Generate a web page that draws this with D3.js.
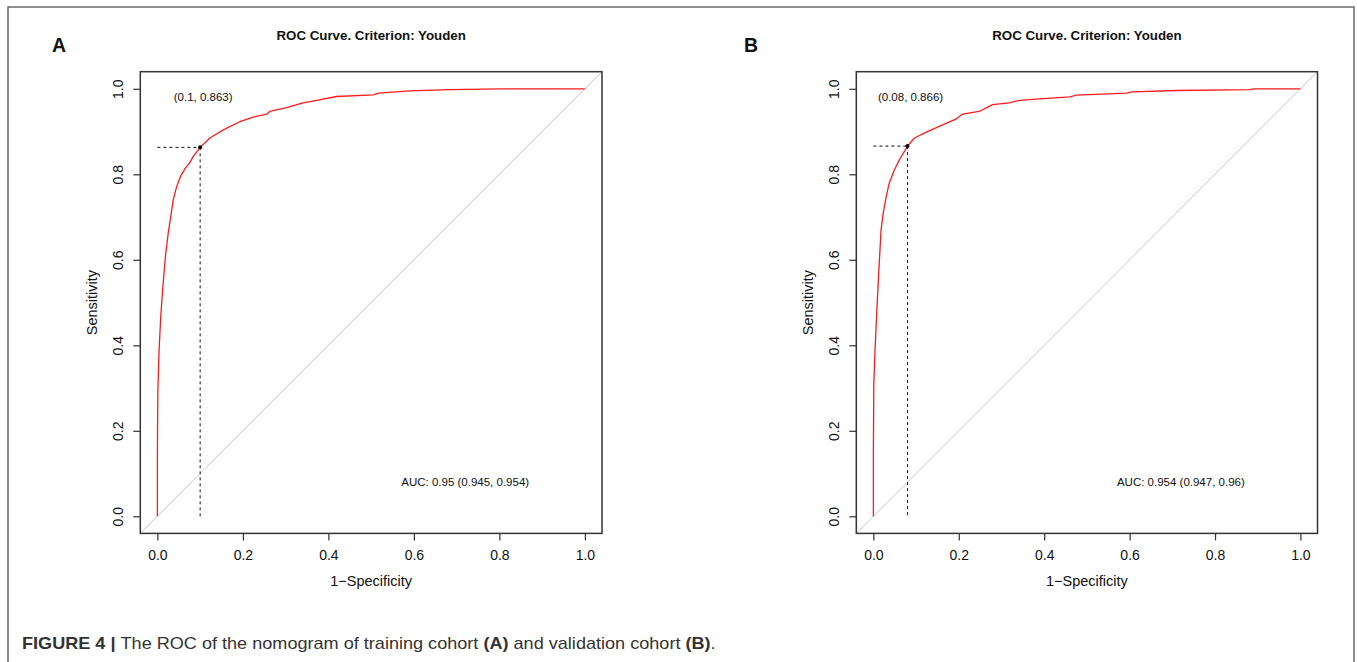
<!DOCTYPE html>
<html><head><meta charset="utf-8">
<script src="https://cdn.jsdelivr.net/npm/d3@7"></script>
<style>
html,body{margin:0;padding:0;background:#fff;}
svg{display:block;font-family:"Liberation Sans",Arial,Helvetica,sans-serif;}
</style></head>
<body>
<svg id="chart" width="1357" height="662"></svg>
<script>
// ---- Data ----
const panelLetters = ["A", "B"];
const chartTitle = "ROC Curve. Criterion: Youden";
const xAxisTitle = "1\u2212Specificity";
const yAxisTitle = "Sensitivity";
const tickValues = [0, 0.2, 0.4, 0.6, 0.8, 1.0];
const tickLabels = ["0.0", "0.2", "0.4", "0.6", "0.8", "1.0"];

const fprA = [0, 0.000, 0.001, 0.004, 0.008, 0.013, 0.019, 0.025, 0.031, 0.037, 0.045, 0.054, 0.065, 0.075, 0.084, 0.100, 0.123, 0.154, 0.193, 0.224, 0.256, 0.263, 0.302, 0.341, 0.373, 0.419, 0.505, 0.517, 0.591, 0.684, 0.801, 1.0];
const tprA = [0, 0.150, 0.290, 0.390, 0.470, 0.540, 0.610, 0.660, 0.700, 0.740, 0.771, 0.795, 0.814, 0.826, 0.842, 0.863, 0.885, 0.904, 0.923, 0.934, 0.941, 0.947, 0.956, 0.967, 0.973, 0.982, 0.986, 0.990, 0.995, 0.998, 1.0, 1.0];

const fprB = [0, 0.000, 0.001, 0.004, 0.008, 0.012, 0.015, 0.018, 0.023, 0.030, 0.037, 0.049, 0.061, 0.080, 0.096, 0.123, 0.154, 0.193, 0.209, 0.248, 0.279, 0.318, 0.342, 0.398, 0.460, 0.476, 0.593, 0.605, 0.710, 0.882, 0.890, 1.0];
const tprB = [0, 0.155, 0.310, 0.390, 0.480, 0.560, 0.615, 0.670, 0.709, 0.748, 0.779, 0.810, 0.834, 0.866, 0.885, 0.898, 0.912, 0.929, 0.941, 0.947, 0.963, 0.967, 0.973, 0.977, 0.981, 0.985, 0.990, 0.993, 0.996, 0.998, 1.0, 1.0];

const cutoffA = [0.1, 0.863];
const cutoffB = [0.08, 0.866];
const cutoffLabels = ["(0.1, 0.863)", "(0.08, 0.866)"];
const aucLabels = ["AUC: 0.95 (0.945, 0.954)", "AUC: 0.954 (0.947, 0.96)"];

const captionParts = [
  {t: "FIGURE 4 | ", b: true},
  {t: "The ROC of the nomogram of training cohort ", b: false},
  {t: "(A)", b: true},
  {t: " and validation cohort ", b: false},
  {t: "(B)", b: true},
  {t: ".", b: false}
];

// ---- Layout ----
const svg = d3.select("#chart");

// outer figure frame (open at bottom)
svg.append("path")
  .attr("d", "M8,662 L8,7 L1354,7 L1354,662")
  .attr("fill", "none").attr("stroke", "#6a6a6a").attr("stroke-width", 1.5);

const panels = [
  {letter: panelLetters[0], fpr: fprA, tpr: tprA, cut: cutoffA, cutLabel: cutoffLabels[0], auc: aucLabels[0],
   box: {x0: 140.3, x1: 602, y0: 71.7, y1: 533.4}, letterX: 59},
  {letter: panelLetters[1], fpr: fprB, tpr: tprB, cut: cutoffB, cutLabel: cutoffLabels[1], auc: aucLabels[1],
   box: {x0: 856.3, x1: 1317.5, y0: 71.7, y1: 533.4}, letterX: 751}
];

panels.forEach((p, i) => {
  const g = svg.append("g");
  const x = d3.scaleLinear().domain([-0.04, 1.04]).range([p.box.x0, p.box.x1]);
  const y = d3.scaleLinear().domain([-0.04, 1.04]).range([p.box.y1, p.box.y0]);

  const clipId = "clip" + i;
  svg.append("clipPath").attr("id", clipId).append("rect")
    .attr("x", p.box.x0).attr("y", p.box.y0)
    .attr("width", p.box.x1 - p.box.x0).attr("height", p.box.y1 - p.box.y0);

  // panel letter
  g.append("text").attr("x", p.letterX).attr("y", 51.5)
    .attr("text-anchor", "middle").attr("font-size", 19.5).attr("font-weight", "bold")
    .attr("fill", "#111").text(p.letter);

  // title
  g.append("text").attr("x", (p.box.x0 + p.box.x1) / 2).attr("y", 40)
    .attr("text-anchor", "middle").attr("font-size", 13.3).attr("font-weight", "bold")
    .attr("fill", "#111").text(chartTitle);

  // diagonal reference line
  g.append("line").attr("clip-path", `url(#${clipId})`)
    .attr("x1", x(-0.04)).attr("y1", y(-0.04)).attr("x2", x(1.04)).attr("y2", y(1.04))
    .attr("stroke", "#c4c4c4").attr("stroke-width", 1);

  // dotted cutoff lines
  g.append("line").attr("x1", x(0)).attr("y1", y(p.cut[1])).attr("x2", x(p.cut[0])).attr("y2", y(p.cut[1]))
    .attr("stroke", "#111").attr("stroke-width", 1).attr("stroke-dasharray", "3,3");
  g.append("line").attr("x1", x(p.cut[0])).attr("y1", y(p.cut[1])).attr("x2", x(p.cut[0])).attr("y2", y(0))
    .attr("stroke", "#111").attr("stroke-width", 1).attr("stroke-dasharray", "3,3");

  // ROC curve
  const pts = p.fpr.map((f, k) => [f, p.tpr[k]]);
  g.append("path").datum(pts)
    .attr("d", d3.line().x(d => x(d[0])).y(d => y(d[1])))
    .attr("fill", "none").attr("stroke", "#ff1a1a").attr("stroke-width", 1.3)
    .attr("stroke-linejoin", "round");

  // cutoff point
  g.append("circle").attr("cx", x(p.cut[0])).attr("cy", y(p.cut[1])).attr("r", 2).attr("fill", "#000");

  // cutoff label
  g.append("text").attr("x", x(p.cut[0]) + 3).attr("y", y(0.98) + 4)
    .attr("text-anchor", "middle").attr("font-size", 11.5).attr("fill", "#111").text(p.cutLabel);

  // AUC label
  g.append("text").attr("x", x(0.72)).attr("y", y(0.08) + 4)
    .attr("text-anchor", "middle").attr("font-size", 11.5).attr("fill", "#111").text(p.auc);

  // box
  g.append("rect").attr("x", p.box.x0).attr("y", p.box.y0)
    .attr("width", p.box.x1 - p.box.x0).attr("height", p.box.y1 - p.box.y0)
    .attr("fill", "none").attr("stroke", "#333").attr("stroke-width", 1.5);

  // x axis
  const xAxis = d3.axisBottom(x).tickValues(tickValues).tickFormat((d, k) => tickLabels[k])
    .tickSize(7).tickPadding(10).tickSizeOuter(0);
  const gx = g.append("g").attr("transform", `translate(0,${p.box.y1})`).call(xAxis);
  gx.select(".domain").remove();
  gx.selectAll(".tick line").attr("stroke", "#333").attr("stroke-width", 1.2);
  gx.selectAll(".tick text").attr("font-size", 14).attr("fill", "#111")
    .attr("font-family", '"Liberation Sans",Arial,sans-serif');

  // y axis
  const yAxis = d3.axisLeft(y).tickValues(tickValues).tickFormat((d, k) => tickLabels[k])
    .tickSize(7).tickSizeOuter(0);
  const gy = g.append("g").attr("transform", `translate(${p.box.x0},0)`).call(yAxis);
  gy.select(".domain").remove();
  gy.selectAll(".tick line").attr("stroke", "#333").attr("stroke-width", 1.2);
  gy.selectAll(".tick text")
    .attr("font-size", 14).attr("fill", "#111")
    .attr("font-family", '"Liberation Sans",Arial,sans-serif')
    .attr("x", null).attr("dy", null)
    .attr("text-anchor", "middle")
    .attr("transform", "translate(-17,0) rotate(-90)")
    .attr("y", 0);

  // axis titles
  g.append("text").attr("x", (p.box.x0 + p.box.x1) / 2).attr("y", 586)
    .attr("text-anchor", "middle").attr("font-size", 14.5).attr("fill", "#111").text(xAxisTitle);
  g.append("text")
    .attr("transform", `translate(${p.box.x0 - 43},${(p.box.y0 + p.box.y1) / 2}) rotate(-90)`)
    .attr("text-anchor", "middle").attr("font-size", 14.5).attr("fill", "#111").text(yAxisTitle);
});

// caption
const cap = svg.append("text").attr("x", 0).attr("y", 0)
  .attr("font-size", 17).attr("fill", "#333");
captionParts.forEach(c => {
  cap.append("tspan").attr("font-weight", c.b ? "bold" : "normal").text(c.t);
});
const bb = cap.node().getBBox();
const sx = (716 - 22) / bb.width;
cap.attr("transform", `translate(22,649) scale(${sx},1)`);
</script>
</body></html>
